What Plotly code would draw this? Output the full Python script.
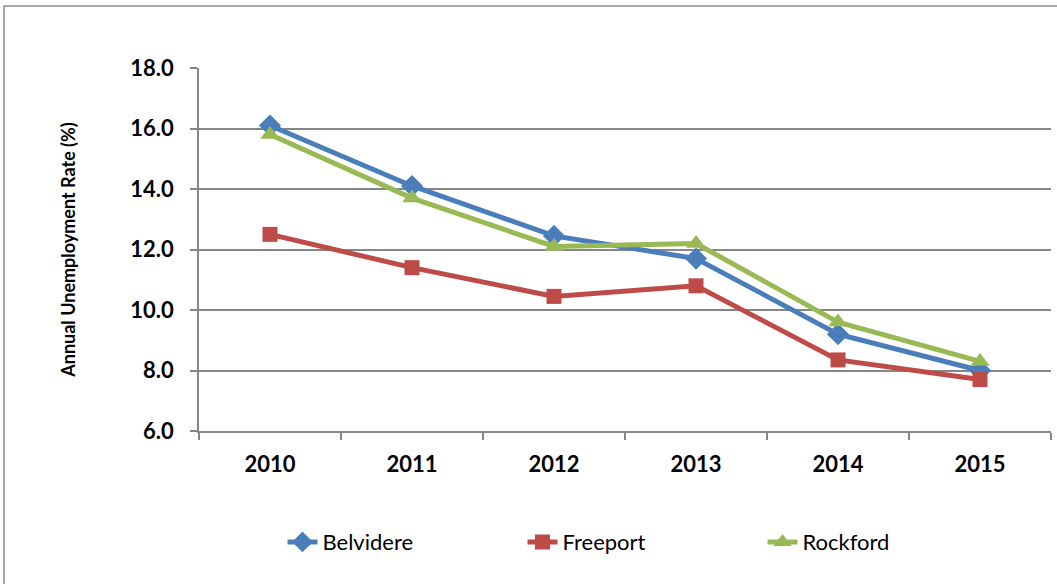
import plotly.graph_objects as go

# anos e taxas de desemprego anual (%)
years = ["2010", "2011", "2012", "2013", "2014", "2015"]
belvidere = [16.1, 14.1, 12.45, 11.7, 9.2, 8.0]
freeport = [12.5, 11.4, 10.45, 10.8, 8.35, 7.7]
rockford = [15.8, 13.7, 12.1, 12.2, 9.6, 8.3]
y_ticks = [6, 8, 10, 12, 14, 16, 18]

fig = go.Figure()
fig.add_trace(go.Scatter(name="Belvidere", x=years, y=belvidere, mode="lines+markers",
                         line=dict(color="#4A7EBB", width=5),
                         marker=dict(symbol="diamond", size=17, color="#4A7EBB")))
fig.add_trace(go.Scatter(name="Freeport", x=years, y=freeport, mode="lines+markers",
                         line=dict(color="#BE4B48", width=5),
                         marker=dict(symbol="square", size=15, color="#BE4B48")))
fig.add_trace(go.Scatter(name="Rockford", x=years, y=rockford, mode="lines+markers",
                         line=dict(color="#98B954", width=5),
                         marker=dict(symbol="triangle-up", size=17, color="#98B954")))

# borda externa do gráfico
fig.add_shape(type="rect", xref="paper", yref="paper",
              x0=-0.2289, x1=1.02, y0=-0.6, y1=1.171,
              line=dict(color="#8C8C8C", width=1.5), layer="below")

fig.update_layout(
    width=1057, height=584,
    margin=dict(l=199, r=6, t=68, b=153),
    paper_bgcolor="white", plot_bgcolor="white",
    font=dict(family="Lato", color="black"),
    showlegend=True,
    legend=dict(orientation="h", x=0.098, xanchor="left", y=-0.306, yanchor="middle",
                font=dict(size=22, family="Lato"), entrywidth=195, entrywidthmode="pixels",
                traceorder="normal"),
    xaxis=dict(type="category", range=[-0.5, 5.5], showgrid=False,
               showline=True, linecolor="#868686", linewidth=1.5,
               ticks="outside", ticklen=7, tickcolor="#868686", tickwidth=1.5,
               tickson="boundaries", ticklabelstandoff=13,
               tickfont=dict(size=22, family="Lato", color="black", weight="bold")),
    yaxis=dict(range=[6, 18], tickvals=y_ticks, tickformat=".1f",
               showgrid=True, gridcolor="#868686", gridwidth=1.5,
               showline=True, linecolor="#868686", linewidth=1.5,
               ticks="outside", ticklen=7, tickcolor="#868686", tickwidth=1.5,
               ticklabelstandoff=12,
               tickfont=dict(size=22, family="Lato", color="black", weight="bold"),
               title=dict(text="Annual Unemployment Rate (%)", standoff=50,
                          font=dict(size=18, family="Lato", color="black", weight="bold"))),
)

# sem margem do body para a figura ficar alinhada na janela
fig.write_html("out.html", config={"displayModeBar": False},
               post_script="document.body.style.margin='0';")
